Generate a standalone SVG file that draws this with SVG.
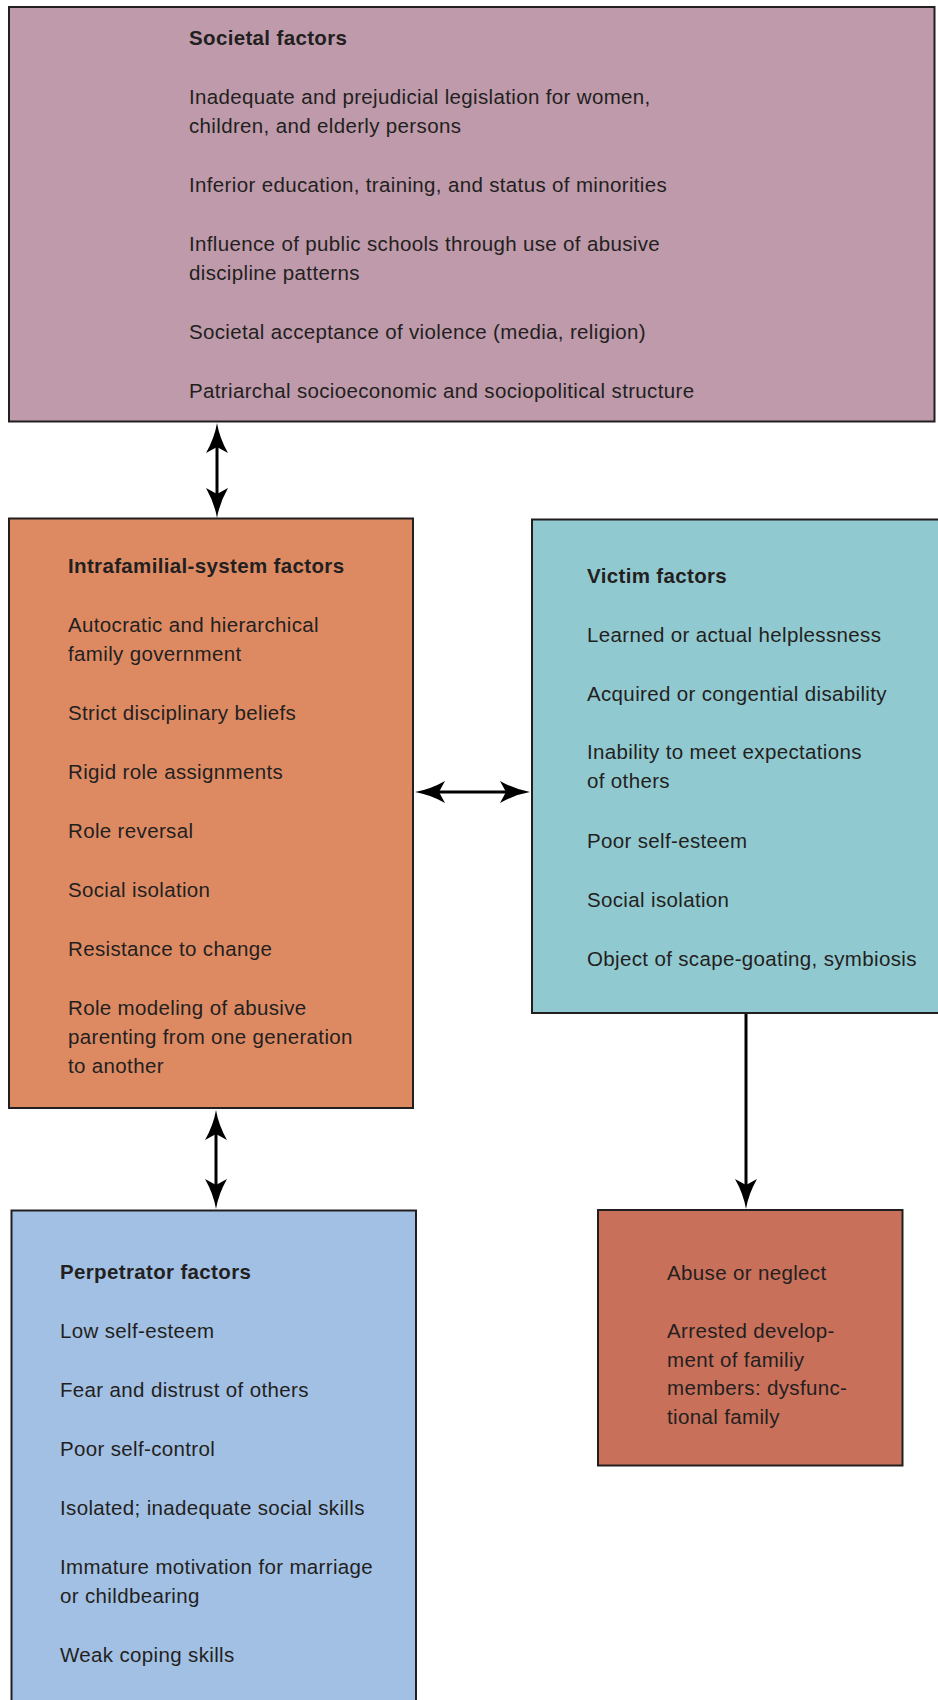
<svg xmlns="http://www.w3.org/2000/svg" width="938" height="1700" viewBox="0 0 938 1700">
  <style>
    .box { stroke: #231f20; stroke-width: 2; }
    .txt { font-family: "Liberation Sans", Arial, Helvetica, sans-serif; font-size: 20.5px; letter-spacing: 0.35px; fill: #231f20; }
    .hd { font-weight: bold; }
    .conn { stroke: #000; stroke-width: 3; fill: none; }
  </style>
  <defs>
    <!-- barbed arrowhead; reference point sits at the notch so the shaft hides inside the head -->
    <marker id="head" markerUnits="userSpaceOnUse" markerWidth="32" markerHeight="24" viewBox="0 0 32 24" refX="7" refY="12" orient="auto-start-reverse">
      <path d="M31,12 Q16,9.5 1,1 L7,12 L1,23 Q16,14.5 31,12 Z" fill="#000"/>
    </marker>
  </defs>
  <rect width="938" height="1700" fill="#fff"/>

  <!-- Societal factors -->
  <g id="societal">
    <rect class="box" x="9" y="7" width="925.5" height="414.5" fill="#be9aab"/>
    <text class="txt hd" x="189" y="45">Societal factors</text>
    <text class="txt" x="189" y="104">Inadequate and prejudicial legislation for women,</text>
    <text class="txt" x="189" y="133">children, and elderly persons</text>
    <text class="txt" x="189" y="192">Inferior education, training, and status of minorities</text>
    <text class="txt" x="189" y="251">Influence of public schools through use of abusive</text>
    <text class="txt" x="189" y="280">discipline patterns</text>
    <text class="txt" x="189" y="339">Societal acceptance of violence (media, religion)</text>
    <text class="txt" x="189" y="398">Patriarchal socioeconomic and sociopolitical structure</text>
  </g>

  <!-- Intrafamilial-system factors -->
  <g id="intrafamilial">
    <rect class="box" x="9" y="518.5" width="404" height="589.5" fill="#dd8a63"/>
    <text class="txt hd" x="68" y="573">Intrafamilial-system factors</text>
    <text class="txt" x="68" y="632">Autocratic and hierarchical</text>
    <text class="txt" x="68" y="661">family government</text>
    <text class="txt" x="68" y="720">Strict disciplinary beliefs</text>
    <text class="txt" x="68" y="779">Rigid role assignments</text>
    <text class="txt" x="68" y="838">Role reversal</text>
    <text class="txt" x="68" y="897">Social isolation</text>
    <text class="txt" x="68" y="956">Resistance to change</text>
    <text class="txt" x="68" y="1015">Role modeling of abusive</text>
    <text class="txt" x="68" y="1044">parenting from one generation</text>
    <text class="txt" x="68" y="1073">to another</text>
  </g>

  <!-- Victim factors -->
  <g id="victim">
    <rect class="box" x="532" y="519.5" width="410" height="493.5" fill="#91c9d1"/>
    <text class="txt hd" x="587" y="583">Victim factors</text>
    <text class="txt" x="587" y="642">Learned or actual helplessness</text>
    <text class="txt" x="587" y="701">Acquired or congential disability</text>
    <text class="txt" x="587" y="759">Inability to meet expectations</text>
    <text class="txt" x="587" y="788">of others</text>
    <text class="txt" x="587" y="848">Poor self-esteem</text>
    <text class="txt" x="587" y="907">Social isolation</text>
    <text class="txt" x="587" y="966">Object of scape-goating, symbiosis</text>
  </g>

  <!-- Perpetrator factors -->
  <g id="perpetrator">
    <rect class="box" x="11.5" y="1210.5" width="404.5" height="495" fill="#a2c0e4"/>
    <text class="txt hd" x="60" y="1279">Perpetrator factors</text>
    <text class="txt" x="60" y="1338">Low self-esteem</text>
    <text class="txt" x="60" y="1397">Fear and distrust of others</text>
    <text class="txt" x="60" y="1456">Poor self-control</text>
    <text class="txt" x="60" y="1515">Isolated; inadequate social skills</text>
    <text class="txt" x="60" y="1574">Immature motivation for marriage</text>
    <text class="txt" x="60" y="1603">or childbearing</text>
    <text class="txt" x="60" y="1662">Weak coping skills</text>
  </g>

  <!-- Outcome -->
  <g id="outcome">
    <rect class="box" x="598" y="1210" width="304.5" height="255.5" fill="#c9705b"/>
    <text class="txt" x="667" y="1280">Abuse or neglect</text>
    <text class="txt" x="667" y="1338">Arrested develop-</text>
    <text class="txt" x="667" y="1367">ment of familiy</text>
    <text class="txt" x="667" y="1395">members: dysfunc-</text>
    <text class="txt" x="667" y="1424">tional family</text>
  </g>

  <!-- Connectors -->
  <g id="connectors">
    <line class="conn" x1="217" y1="447" x2="217" y2="494" marker-start="url(#head)" marker-end="url(#head)"/>
    <line class="conn" x1="439" y1="792" x2="506" y2="792" marker-start="url(#head)" marker-end="url(#head)"/>
    <line class="conn" x1="216" y1="1134" x2="216" y2="1185" marker-start="url(#head)" marker-end="url(#head)"/>
    <line class="conn" x1="746" y1="1014" x2="746" y2="1185" marker-end="url(#head)"/>
  </g>
</svg>
